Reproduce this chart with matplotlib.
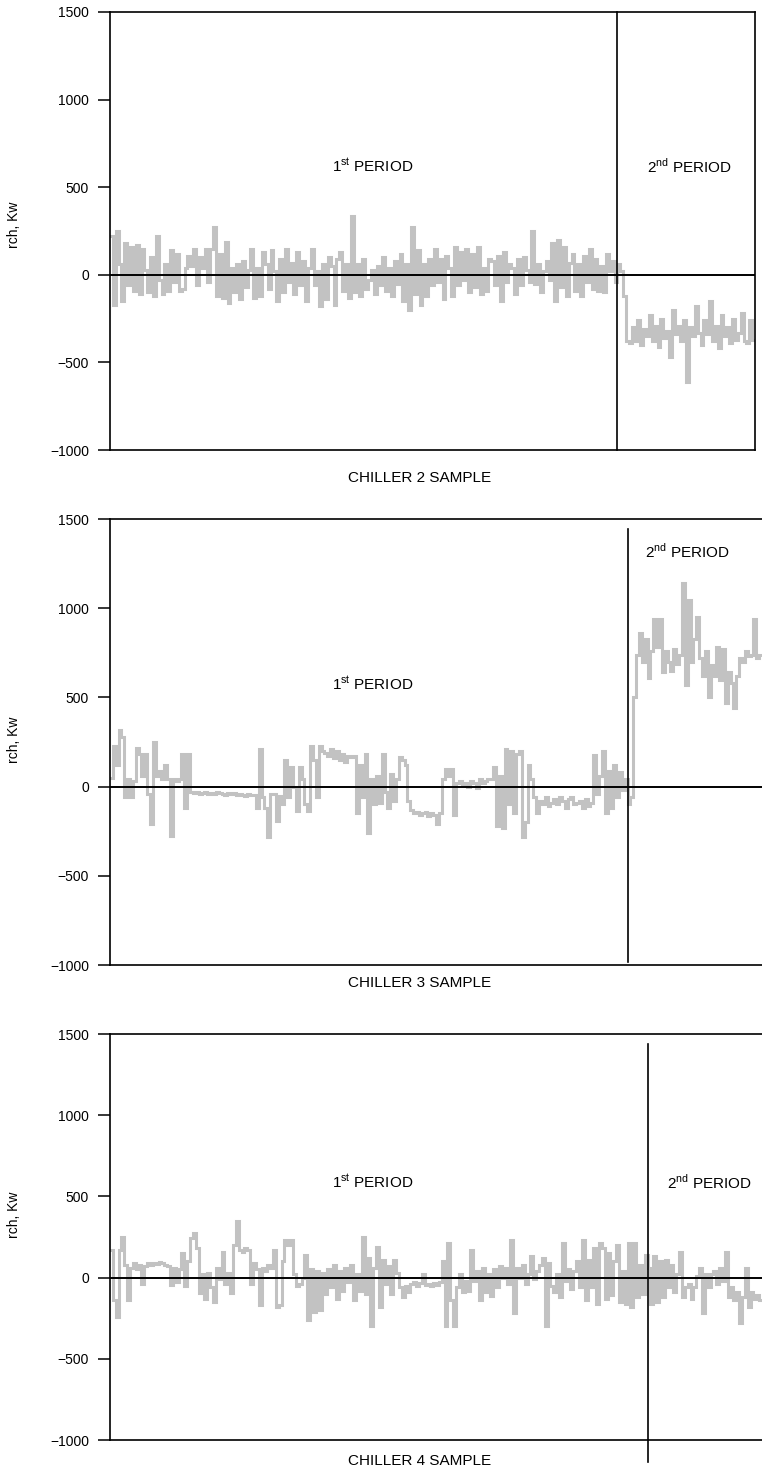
import numpy as np
import matplotlib
matplotlib.use("Agg")
import matplotlib.pyplot as plt

plt.rcParams['font.family'] = ['Liberation Sans', 'DejaVu Sans']
plt.rcParams['mathtext.fontset'] = 'custom'
plt.rcParams['mathtext.rm'] = 'Liberation Sans'

# rch, Kw readings per sample
ch2_p1 = [220, -170, 250, 60, -150, 180, -60,
          160, -90, 170, -110, 150, 30, -100,
          100, -120, 220, -30, -110, 60, -90,
          140, -40, 120, -90, -80, 40, 110,
          50, 150, -60, 100, 40, 150, -40,
          150, 275, -120, 120, -130, 190, -160,
          40, -100, 60, -140, 80, -70, 30,
          150, -130, 40, -120, 130, 60, -80,
          140, 20, -150, 90, -100, 150, -40,
          70, -110, 130, -60, 80, -150, 40,
          150, -60, 20, -180, 60, -140, 100,
          50, -170, 90, 130, -90, 60, -130,
          335, -100, 60, -120, 90, -80, -30,
          30, -110, 50, -60, 100, -90, 40,
          -120, 80, -50, 120, -150, 60, -200,
          270, -110, 140, -170, 60, -120, 90,
          -60, 150, -40, 90, -140, 110, 40,
          -120, 160, -60, 130, -30, 150, -100,
          120, -70, 160, -110, 40, -90, 90,
          80, -60, 110, -150, 130, -40, 60,
          40, -110, 90, -60, 100, 30, -40,
          250, -50, 60, -100, 20, 80, -30,
          180, -150, 200, -70, 160, -120, 70,
          120, -90, 60, -120, 110, -40, 150,
          -80, 90, -90, 50, -100, 120, 20,
          80, -40]
ch2_p2 = [60, 20, -120, -380,
          -390, -300, -380, -260, -400, -310, -350, -230, -380, -290,
          -410, -250, -360, -320, -470, -200, -340, -290, -380, -260,
          -610, -300, -350, -180, -330, -400, -260, -340, -150, -380,
          -290, -420, -230, -350, -300, -390, -250, -370, -330, -220,
          -380, -390, -260, -370]

ch3_p1 = [50, 230, 120, 320, 280, -60, 40,
          -60, 30, 215, 180, 60, 180, -40,
          -210, 250, 60, 90, 40, 120, 40,
          -277, 40, 30, 40, 180, -120, 180,
          -30, -35, -30, -40, -35, -30, -40,
          -35, -40, -30, -35, -40, -45, -35,
          -40, -35, -45, -40, -45, -50, -40,
          -45, -45, -120, 210, -60, -120, -285,
          -40, -40, -195, -50, -100, 150, -60,
          110, 0, -135, 110, 40, -100, -135,
          225, 150, -60, 225, 200, 190, 170,
          210, 160, 200, 150, 180, 140, 170,
          165, 170, -150, 120, -60, 180, -260,
          40, -100, 60, -90, 180, -30, -120,
          70, -80, 40, 165, 150, 120, -80,
          -130, -150, -140, -160, -150, -140, -165,
          -150, -160, -210, -150, 40, 100, 60,
          100, -160, 20, 30, 10, 20, 0,
          30, 20, -10, 40, 20, 30, 40,
          40, 110, -220, 60, -230, 210, -100,
          200, -150, 180, 200, -285, -200, 120,
          40, -60, -150, -80, -100, -60, -110,
          -90, -70, -100, -60, -80, -120, -70,
          -60, -100, -90, -80, -120, -70, -110,
          -90, 175, -40, 60, 200, -150, 90,
          -120, 120, -60, 80, -20, 40]
ch3_p2 = [-100, -60, 500, 740,
          860, 700, 830, 610, 760, 940, 780,
          940, 640, 760, 700, 650, 770, 690,
          740, 1140, 570, 1045, 700, 830, 950,
          720, 620, 760, 500, 680, 620, 780,
          600, 770, 470, 640, 580, 440, 620,
          720, 700, 760, 730, 740, 940, 720, 740]

ch4_p1 = [170, -140, -240, 170, 253, 80, -140,
          60, 90, 50, 80, -40, 70, 90,
          80, 90, 85, 95, 90, 80, 70,
          -45, 60, -30, 50, 150, -50, 100,
          243, 273, 180, -97, 20, -130, 30,
          -60, -150, 60, -10, 160, -40, 30,
          -97, 200, 346, 170, 160, 180, 170,
          -40, 90, 50, -170, 60, 40, 80,
          60, 170, -180, -170, 100, 230, 200,
          230, 20, -50, -40, 0, 140, -260,
          50, -210, 40, -200, 30, -100, 50,
          -60, 80, -130, 40, -80, 60, -30,
          80, -140, 20, -80, 253, -100, 120,
          -300, 60, 190, -180, 110, -40, 70,
          -100, 110, 30, -60, -120, -50, -90,
          -40, -30, -50, -35, 20, -45, -40,
          -50, -35, -45, -30, 100, -300, 210,
          -140, -300, -60, 20, -90, -20, -80,
          170, -20, 40, -140, 60, -90, 20,
          -115, 50, -60, 70, 0, 60, -40,
          232, -220, 60, 0, 80, -40, 20,
          130, -10, 40, 80, 120, -300, 90,
          -50, -90, 20, -120, 210, -20, 50,
          -70, 40, 100, -60, 232, -140, 110,
          -60, 180, -160, 210, 180, -130, 150,
          -110, 100, 200, -150, 40, -160, 210,
          -180, 210, -120, 80, -100, 140]
ch4_p2 = [60, -160, 130, -150, 100, -120, 110,
          -60, 80, -90, 20, 160, -120, -60,
          -40, -130, -60, 10, 60, -220, 20,
          -60, 20, 40, -40, 60, -20, 160,
          -120, -60, -140, -90, -280, -120, 60,
          -180, -90, -130, -110, -140]

yticks = [-1000, -500, 0, 500, 1000, 1500]
titles = ['CHILLER 2 SAMPLE', 'CHILLER 3 SAMPLE', 'CHILLER 4 SAMPLE']

W, H = 762, 1473
fig = plt.figure(figsize=(W / 100, H / 100), dpi=100)

# axes boxes in pixels: left, top, right, bottom
boxes = [(110, 12, 755, 450), (110, 519, 762, 965), (110, 1034, 762, 1440)]
# vertical divider extent (ymin, ymax) and text spots
vspans = [(-1000, 1500), (-985, 1445), (-1135, 1440)]
first_pos = [(0.408, 620), (0.403, 575), (0.403, 585)]
second_pos = [(0.899, 620), (0.886, 1320), (0.920, 585)]
label_y = [478, 983, 1461]
ylab_y = [225, 740, 1215]

series = [(ch2_p1, ch2_p2), (ch3_p1, ch3_p2), (ch4_p1, ch4_p2)]

for i, (p1, p2) in enumerate(series):
    l, t, r, b = boxes[i]
    ax = fig.add_axes([l / W, 1 - b / H, (r - l) / W, (b - t) / H])
    vals = np.array(p1 + p2)
    x = np.arange(len(vals))
    ax.plot(x, vals, drawstyle='steps-mid', color='#c2c2c2', lw=2.2,
            solid_joinstyle='miter')
    ax.axhline(0, color='black', lw=1.4)
    split = len(p1) - 0.5
    ax.plot([split, split], vspans[i], color='black', lw=1.2, clip_on=False)
    ax.set_xlim(-0.5, len(vals) - 0.5)
    ax.set_ylim(-1000, 1500)
    ax.set_yticks(yticks)
    ax.set_yticklabels([str(v).replace('-', '\u2212') for v in yticks])
    ax.set_xticks([])
    ax.tick_params(axis='y', direction='out', length=9, width=1.1,
                   labelsize=10, pad=6)
    for s in ax.spines.values():
        s.set_linewidth(1.2)
    if i > 0:
        # right edge is cut off in the original
        ax.spines['right'].set_visible(False)

    tr = ax.get_yaxis_transform()
    ax.text(first_pos[i][0], first_pos[i][1], r'1$^{\rm st}$ PERIOD',
            transform=tr, ha='center', va='center', fontsize=11)
    ax.text(second_pos[i][0], second_pos[i][1], r'2$^{\rm nd}$ PERIOD',
            transform=tr, ha='center', va='center', fontsize=11)

    fig.text(420 / W, 1 - label_y[i] / H, titles[i], ha='center', va='center',
             fontsize=11)
    fig.text(14 / W, 1 - ylab_y[i] / H, 'rch, Kw', rotation=90,
             ha='center', va='center', fontsize=10)

fig.savefig('out.png', dpi=100)
